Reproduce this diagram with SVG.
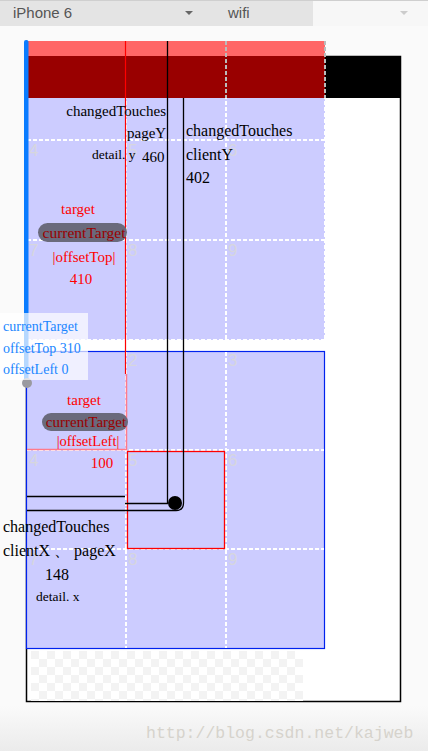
<svg xmlns="http://www.w3.org/2000/svg" width="428" height="751" viewBox="0 0 428 751">
<style>
.serif{font-family:"Liberation Serif","Times New Roman",serif}
.blk{fill:#000}
.red{fill:#ff0000}
.dred{fill:#990000}
.blue{fill:#1a86ff}
.num{font-family:"Liberation Sans",Arial,sans-serif;font-size:17px;fill:#d6d6de}
.dash{stroke:#fff;stroke-width:2;stroke-dasharray:4 2;fill:none}
.pill{fill:#6a6a7c}
.ln{stroke:#000;stroke-width:1.3;fill:none}
.ui{font-family:"Liberation Sans",Arial,sans-serif;font-size:15px;fill:#555}
</style>
<defs>
<linearGradient id="bg" x1="0" y1="0" x2="0" y2="1">
<stop offset="0" stop-color="#fafafa"/><stop offset="0.94" stop-color="#fafafa"/><stop offset="1" stop-color="#ebebeb"/>
</linearGradient>
<pattern id="chk" x="31" y="651" width="16" height="16" patternUnits="userSpaceOnUse">
<rect width="16" height="16" fill="#fff"/>
<rect width="8" height="8" fill="#f3f3f3"/>
<rect x="8" y="8" width="8" height="8" fill="#f3f3f3"/>
</pattern>
</defs>
<rect width="428" height="751" fill="url(#bg)"/>
<g id="toolbar">
<rect x="0" y="0" width="428" height="26" fill="#f7f7f7"/>
<rect x="0" y="1" width="313" height="25" fill="#e4e4e4"/>
<rect x="0" y="0" width="428" height="1" fill="#cfcfcf"/>
<text x="13" y="18" class="ui">iPhone 6</text>
<path d="M185,11 L193,11 L189,15 Z" fill="#666"/>
<text x="228" y="18" class="ui">wifi</text>
<path d="M400,11 L408,11 L404,15 Z" fill="#ccc"/>
</g>
<g id="frame">
<rect x="26.5" y="56.5" width="374" height="645" fill="#fff" stroke="#000" stroke-width="1.5"/>
<rect x="31" y="651" width="272" height="50" fill="url(#chk)"/>
</g>
<g id="topPanel">
<rect x="27" y="41" width="298" height="299" fill="#ccccff"/>
<line x1="126" y1="41" x2="126" y2="340" class="dash"/>
<line x1="226" y1="41" x2="226" y2="340" class="dash"/>
<line x1="27" y1="140" x2="325" y2="140" class="dash"/>
<line x1="27" y1="240" x2="325" y2="240" class="dash"/>
<line x1="27" y1="340" x2="325" y2="340" class="dash"/>
<line x1="325" y1="41" x2="325" y2="340" class="dash"/>
<text x="29" y="156" class="num">4</text>
<text x="128" y="156" class="num">5</text>
<text x="228" y="156" class="num">6</text>
<text x="29" y="256" class="num">7</text>
<text x="128" y="256" class="num">8</text>
<text x="228" y="256" class="num">9</text>
</g>
<g id="header">
<rect x="27" y="41" width="298" height="15" fill="#ff6666"/>
<rect x="27" y="56" width="298" height="42" fill="#990000"/>
<rect x="325" y="56" width="76" height="42" fill="#000"/>
<line x1="226" y1="41" x2="226" y2="98" stroke="#bbb" stroke-width="2" stroke-dasharray="4 2"/>
<line x1="325" y1="41" x2="325" y2="98" stroke="#bbb" stroke-width="2" stroke-dasharray="4 2"/>
</g>
<g id="bottomPanel">
<rect x="26.5" y="351.5" width="298" height="297" fill="#ccccff" stroke="#0022ee" stroke-width="1.2"/>
<line x1="126" y1="352" x2="126" y2="648" class="dash"/>
<line x1="226" y1="352" x2="226" y2="648" class="dash"/>
<line x1="27" y1="450" x2="324" y2="450" class="dash"/>
<line x1="27" y1="549" x2="324" y2="549" class="dash"/>
<text x="128" y="366" class="num">2</text>
<text x="228" y="366" class="num">3</text>
<text x="29" y="466" class="num">4</text>
<text x="128" y="466" class="num">5</text>
<text x="228" y="466" class="num">6</text>
<text x="29" y="565" class="num">7</text>
<text x="128" y="565" class="num">8</text>
<text x="228" y="565" class="num">9</text>
</g>
<g id="targetOutline">
<line x1="125.5" y1="41" x2="125.5" y2="374" stroke="#ff0000" stroke-width="1.2"/>
<path d="M126.5,374 V449.5 H27" stroke="#ff7a8a" stroke-width="1.5" fill="none"/>
<rect x="127.5" y="451.5" width="97" height="97" fill="none" stroke="#ff0000" stroke-width="1.3"/>
</g>
<g id="topLabels" class="serif">
<text x="166" y="116" text-anchor="end" font-size="15" class="blk">changedTouches</text>
<text x="127" y="138" font-size="15" class="blk">pageY</text>
<text x="92" y="159" font-size="13.5" class="blk">detail. y</text>
<text x="142" y="162" font-size="15" class="blk">460</text>
<text x="186" y="136" font-size="16" class="blk">changedTouches</text>
<text x="186" y="160" font-size="16" class="blk">clientY</text>
<text x="186" y="183" font-size="16" class="blk">402</text>
<text x="78" y="214" text-anchor="middle" font-size="15" class="red">target</text>
<rect x="38" y="223" width="89" height="19" rx="9.5" class="pill"/>
<text x="84" y="238" text-anchor="middle" font-size="15.5" class="dred">currentTarget</text>
<text x="84" y="262" text-anchor="middle" font-size="15" class="red">|offsetTop|</text>
<text x="81" y="284" text-anchor="middle" font-size="15" class="red">410</text>
</g>
<g id="bottomLabels" class="serif">
<text x="84" y="405" text-anchor="middle" font-size="15" class="red">target</text>
<rect x="42" y="413" width="86" height="18" rx="9" class="pill"/>
<text x="86" y="427" text-anchor="middle" font-size="15" class="dred">currentTarget</text>
<text x="88" y="446" text-anchor="middle" font-size="14.5" class="red">|offsetLeft|</text>
<text x="102" y="468" text-anchor="middle" font-size="15" class="red">100</text>
<text x="3" y="532" font-size="16" class="blk">changedTouches</text>
<text x="3" y="556" font-size="16" class="blk">clientX 、 pageX</text>
<text x="45" y="580" font-size="16" class="blk">148</text>
<text x="36" y="601" font-size="13.5" class="blk">detail. x</text>
</g>
<g id="connectors">
<path d="M167.5,41 V503.5 H125" class="ln"/>
<path d="M183.5,98 V503 Q183.5,510.5 176,510.5 H27" class="ln"/>
<line x1="27" y1="496.5" x2="125" y2="496.5" class="ln"/>
</g>
<g id="touchPoint">
<circle cx="175" cy="503" r="7" fill="#000"/>
</g>
<g id="leftBar">
<rect x="24" y="40" width="4.5" height="343" rx="2" fill="#0a7cff"/>
<circle cx="27" cy="383" r="5" fill="#9a9aa0"/>
</g>
<g id="tooltip">
<rect x="0" y="313" width="88" height="67" fill="#ffffff" fill-opacity="0.7"/>
<text x="3" y="331" font-size="14" class="serif blue">currentTarget</text>
<text x="3" y="353" font-size="14" class="serif blue">offsetTop  310</text>
<text x="3" y="374" font-size="14" class="serif blue">offsetLeft  0</text>
</g>
<g id="watermark">
<text x="146" y="738" font-family="'Liberation Mono','Courier New',monospace" font-size="16.5" fill="#d6d3cc">http://blog.csdn.net/kajweb</text>
</g>
</svg>
